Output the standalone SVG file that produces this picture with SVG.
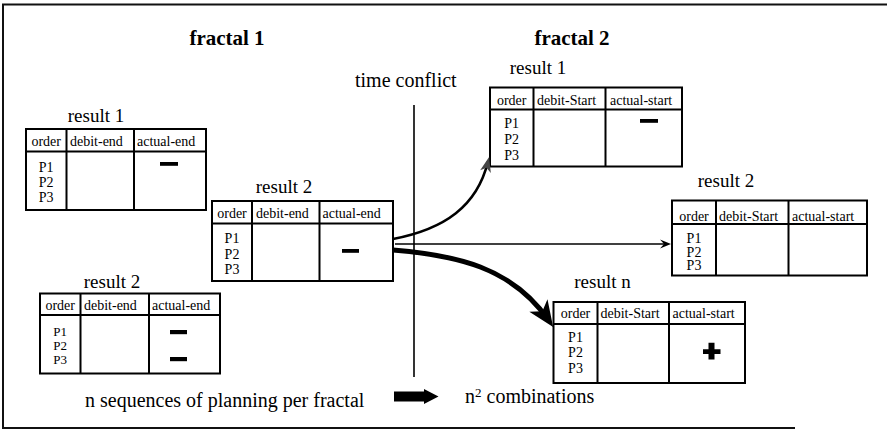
<svg xmlns="http://www.w3.org/2000/svg" width="887" height="431" viewBox="0 0 887 431">
<defs>
<style>
text{font-family:'Liberation Serif','DejaVu Serif','Times New Roman',serif;fill:#000}
.ttl{font-size:19px;text-anchor:middle}
.hd{font-size:14px}
.c{text-anchor:middle}
.big{font-size:20px}
.bold{font-size:21px;font-weight:bold;text-anchor:middle}
.box{fill:#fff;stroke:#000;stroke-width:2}
.ln{stroke:#000;stroke-width:2;fill:none}
</style>
<marker id="hThick" viewBox="-28 -12 30 24" markerWidth="30" markerHeight="24" refX="-8" refY="0" markerUnits="userSpaceOnUse" orient="auto">
<path d="M0,0 L-26,-11 L-19,0 L-26,11 Z" fill="#000"/>
</marker>
<marker id="hUp" viewBox="-16 -7 18 14" markerWidth="18" markerHeight="14" refX="-5" refY="0" markerUnits="userSpaceOnUse" orient="auto">
<path d="M0,0 L-15,-5.5 L-11,0 L-15,5.5 Z" fill="#444"/>
</marker>
<marker id="hThin" viewBox="-12 -6 14 12" markerWidth="14" markerHeight="12" refX="-3" refY="0" markerUnits="userSpaceOnUse" orient="auto">
<path d="M0,0 L-11,-4.5 L-7,0 L-11,4.5 Z" fill="#000"/>
</marker>
</defs>
<rect width="887" height="431" fill="#fff"/>
<path d="M887,4.5 H3 V428 H795" fill="none" stroke="#111" stroke-width="2"/>

<g font-family="Liberation Serif, DejaVu Serif, serif">
<text class="bold" x="227" y="45">fractal 1</text>
<text class="bold" x="572" y="45">fractal 2</text>
<text class="big" x="355" y="87">time conflict</text>
<line x1="414" y1="105" x2="414" y2="377" stroke="#000" stroke-width="1.6"/>

<g id="f1-result1">
<text class="ttl" x="96" y="122">result 1</text>
<rect class="box" x="26" y="129" width="180" height="81"/>
<path class="ln" d="M26,151.5 H207 M66.5,129 V210 M134,129 V210"/>
<text class="hd c" x="46.2" y="146">order</text>
<text class="hd" x="70" y="146">debit-end</text>
<text class="hd" x="137" y="146">actual-end</text>
<text class="hd c" x="46.2" y="172">P1</text>
<text class="hd c" x="46.2" y="187">P2</text>
<text class="hd c" x="46.2" y="202">P3</text>
<rect x="160" y="162" width="18" height="3.8" fill="#000"/>
</g>

<g id="f1-result2a">
<text class="ttl" x="284" y="193">result 2</text>
<rect class="box" x="212" y="201" width="181" height="80"/>
<path class="ln" d="M212,223.5 H393 M252,201 V281 M319.5,201 V281"/>
<text class="hd c" x="232" y="218">order</text>
<text class="hd" x="256" y="218">debit-end</text>
<text class="hd" x="322.5" y="218">actual-end</text>
<text class="hd c" x="232" y="243">P1</text>
<text class="hd c" x="232" y="258.5">P2</text>
<text class="hd c" x="232" y="274">P3</text>
<rect x="342" y="249" width="17" height="3.8" fill="#000"/>
</g>

<g id="f1-result2b">
<text class="ttl" x="112" y="288">result 2</text>
<rect class="box" x="40" y="293.5" width="180" height="80"/>
<path class="ln" d="M40,315 H220 M80.5,293.5 V373.5 M149,293.5 V373.5"/>
<text class="hd c" x="60.2" y="309.5">order</text>
<text class="hd" x="84" y="309.5">debit-end</text>
<text class="hd" x="152" y="309.5">actual-end</text>
<text class="c" font-size="13" x="60.2" y="335.5">P1</text>
<text class="c" font-size="13" x="60.2" y="349.5">P2</text>
<text class="c" font-size="13" x="60.2" y="363.5">P3</text>
<rect x="170" y="330" width="17" height="4.2" fill="#000"/>
<rect x="170" y="357" width="17" height="4.2" fill="#000"/>
</g>

<g id="f2-result1">
<text class="ttl" x="538" y="73.5">result 1</text>
<rect class="box" x="490" y="87.5" width="192" height="79"/>
<path class="ln" d="M490,109.5 H682 M533.5,87.5 V166.5 M605.5,87.5 V166.5"/>
<text class="hd c" x="511.7" y="105">order</text>
<text class="hd" x="537" y="105">debit-Start</text>
<text class="hd" x="610" y="105">actual-start</text>
<text class="hd c" x="511.7" y="128">P1</text>
<text class="hd c" x="511.7" y="144">P2</text>
<text class="hd c" x="511.7" y="160">P3</text>
<rect x="640" y="119" width="18" height="3.8" fill="#000"/>
</g>

<g id="f2-result2">
<text class="ttl" x="726" y="187">result 2</text>
<rect class="box" x="672" y="200.5" width="195" height="75"/>
<path class="ln" d="M672,224 H868 M716,200.5 V275.5 M788.5,200.5 V275.5"/>
<text class="hd c" x="694" y="221">order</text>
<text class="hd" x="719" y="221">debit-Start</text>
<text class="hd" x="792" y="221">actual-start</text>
<text class="hd c" x="694" y="243">P1</text>
<text class="hd c" x="694" y="256.5">P2</text>
<text class="hd c" x="694" y="270">P3</text>
</g>

<g id="f2-resultn">
<text class="ttl" x="602.5" y="288">result n</text>
<rect class="box" x="553.5" y="302" width="191.5" height="81"/>
<path class="ln" d="M553.5,324 H746 M597.5,302 V383 M669,302 V383"/>
<text class="hd c" x="575.5" y="318">order</text>
<text class="hd" x="600.5" y="318">debit-Start</text>
<text class="hd" x="672.5" y="318">actual-start</text>
<text class="hd c" x="575.5" y="341.5">P1</text>
<text class="hd c" x="575.5" y="357">P2</text>
<text class="hd c" x="575.5" y="372.5">P3</text>
<path d="M703,349.3 H720.5 V354 H714.5 V359.5 H708.5 V354 H703 Z M708.5,349.3 V342.7 H714.5 V349.3 Z" fill="#000"/>
</g>

<g id="connectors">
<path d="M393,239 C445,229 477,206 487.9,161.9" fill="none" stroke="#000" stroke-width="2.5" marker-end="url(#hUp)"/>
<path d="M395,244 H668" fill="none" stroke="#000" stroke-width="1.5" marker-end="url(#hThin)"/>
<path d="M393,250 C455,255 512,267 548.6,320.3" fill="none" stroke="#000" stroke-width="5" marker-end="url(#hThick)"/>
</g>

<g id="bottom">
<text class="big" x="85" y="406.5">n sequences of planning per fractal</text>
<polygon points="394,391.5 424,391.5 424,389 438.5,396.5 424,404 424,401.5 394,401.5" fill="#000"/>
<text class="big" x="465" y="403">n<tspan font-size="13" dy="-6">2</tspan><tspan dy="6"> combinations</tspan></text>
</g>
</g>
</svg>
